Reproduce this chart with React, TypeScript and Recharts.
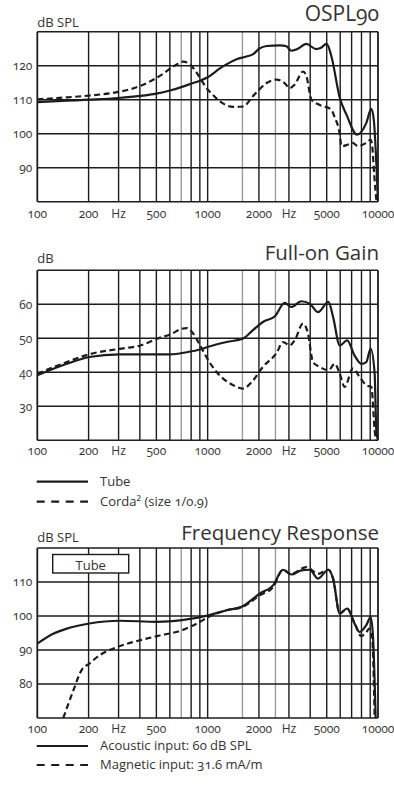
import React from 'react';
import { LineChart, Line, XAxis, YAxis, ReferenceLine } from 'recharts';

const FONT = '"Open Sans", "Noto Sans", sans-serif';
const INK = '#1c1c1c';
const TEXT = '#333333';
const GRAY = '#9b9b9b';

// Axis ticks / grid
const freqTicks = [100, 200, 300, 500, 1000, 2000, 3000, 5000, 10000];
const gridHz = [200, 300, 400, 500, 600, 700, 800, 900, 1000, 1600, 2000, 2500, 3000, 4000, 5000, 6000, 7000, 8000, 9000];
const grayGridHz = [700, 1600, 2500];

// OSPL90
const osplTicks = [90, 100, 110, 120];
const osplTubeHz = [100, 150, 200, 300, 400, 500, 600, 700, 800, 900, 1000, 1180, 1290, 1480, 1690, 1850, 2010, 2220, 2660, 2900, 3100, 3330, 3800, 4330, 4590, 5000, 5330, 5970, 6530, 7540, 8530, 9130, 9450, 9800, 10000];
const osplTubeDb = [109.3, 109.7, 110, 110.5, 111.1, 111.8, 112.7, 113.7, 114.7, 115.6, 116.6, 119.2, 120.4, 121.9, 122.7, 123.4, 125, 125.8, 126, 125.7, 124.4, 124.8, 126.4, 124.9, 125.2, 126.4, 122.7, 110.5, 105.6, 99.7, 103.1, 107.3, 104.1, 90.4, 80];
const osplCordaHz = [100, 150, 200, 300, 400, 524, 627, 718, 786, 850, 922, 1000, 1055, 1180, 1410, 1610, 1880, 2220, 2530, 2830, 3030, 3240, 3630, 3800, 4070, 4520, 5330, 5540, 5970, 6100, 6660, 7090, 7630, 8520, 9060, 9250, 9520, 9800];
const osplCordaDb = [110.1, 110.7, 111.2, 112.3, 114, 117, 119.7, 121.2, 120.4, 118.4, 115.6, 113, 111.8, 109.5, 107.9, 108, 111.5, 114.9, 115.9, 114.9, 113.4, 114.4, 118.3, 116.9, 110, 108.5, 107.1, 105.1, 99.7, 96.3, 96.8, 97.3, 96.3, 97.3, 98.2, 96.3, 87.4, 80];

// Full-on Gain
const gainTicks = [30, 40, 50, 60];
const gainTubeHz = [100, 149, 202, 303, 505, 606, 752, 903, 1009, 1291, 1609, 1846, 2110, 2484, 2832, 3100, 3548, 3970, 4441, 5114, 5448, 5962, 6586, 7282, 7975, 8537, 9057, 9558, 9775, 10000];
const gainTubeDb = [39.1, 42.5, 44.5, 45.3, 45.3, 45.3, 45.9, 46.7, 47.5, 48.9, 49.9, 52.4, 54.8, 56.5, 60.4, 59.2, 60.9, 60.2, 57.7, 60.7, 56.3, 47.9, 49.4, 45, 42.5, 43, 47, 39.6, 23, 20];
const gainCordaHz = [100, 149, 202, 303, 403, 505, 606, 706, 752, 822, 903, 1009, 1129, 1413, 1609, 1846, 2110, 2541, 2769, 3030, 3241, 3629, 3882, 4153, 4543, 5114, 5573, 5962, 6374, 7118, 7796, 8537, 9138, 9558, 9700];
const gainCordaDb = [39.6, 43, 45.3, 46.9, 47.9, 49.9, 51.2, 52.8, 53, 51.4, 47.9, 43.5, 40.1, 36.2, 35.2, 37.6, 41.6, 45.7, 48.9, 47.9, 49.4, 54.3, 51.4, 43, 41.6, 40.6, 42.5, 39.6, 35.7, 41.1, 38.6, 36.2, 35.7, 23, 20];

// Frequency Response
const respTicks = [80, 90, 100, 110];
const respAcousticHz = [100, 124, 149, 202, 303, 505, 706, 1009, 1291, 1609, 2023, 2421, 2769, 3100, 3548, 3970, 4441, 5114, 5448, 5962, 6586, 7282, 7796, 8537, 9057, 9349, 9690];
const respAcousticDb = [91.9, 94.8, 96.3, 97.8, 98.6, 98.3, 98.8, 100.2, 101.7, 102.9, 106.6, 109, 113.6, 112.2, 113.4, 113.6, 111, 113.6, 111, 100.7, 102.2, 97.8, 95.3, 97.3, 99.7, 93.9, 69.9];
const respMagneticHz = [130, 142, 163, 182, 202, 233, 303, 403, 505, 706, 903, 1009, 1291, 1609, 2023, 2421, 2769, 3100, 3792, 4441, 5114, 5448, 5962, 6586, 7282, 7975, 8537, 8901, 9230, 9558];
const respMagneticDb = [64.8, 70, 78.2, 84.1, 86, 88.5, 91.1, 92.9, 94.1, 95.8, 98.3, 99.7, 101.7, 102.7, 106.1, 108.5, 113.6, 112.4, 114.4, 112.4, 113.6, 111, 100.7, 102.2, 98, 94.1, 95.3, 96.3, 93.9, 70];

const toData = (hz: number[], db: number[]) => hz.map((f, i) => ({ f, v: db[i] }));

type Series = { data: { f: number; v: number }[]; dashed: boolean };

function range(lo: number, hi: number, step: number) {
  const out: number[] = [];
  for (let v = lo; v <= hi + 1e-9; v += step) out.push(v);
  return out;
}

const hzLabel = (v: number) => (v === 300 || v === 3000 ? 'Hz' : String(v));

function Panel(props: { top: number; marginTop: number; tickGap: number; yDomain: [number, number]; yTicks: number[]; series: Series[] }) {
  const { top, marginTop, tickGap, yDomain, yTicks, series } = props;
  const plotH = 170;
  const axisH = 30;
  const height = marginTop + plotH + axisH;
  const tickStyle = { fill: TEXT, fontSize: 12, fontFamily: FONT };
  return (
    <div style={{ position: 'absolute', left: 0, top }}>
      <LineChart width={394} height={height} margin={{ top: marginTop, right: 16, bottom: 0, left: 0 }}>
        <XAxis
          type="number"
          dataKey="f"
          scale="log"
          domain={[100, 10000]}
          ticks={freqTicks}
          interval={0}
          tickFormatter={hzLabel}
          axisLine={false}
          tickLine={false}
          tickSize={0}
          tickMargin={tickGap}
          height={axisH}
          tick={tickStyle}
          allowDataOverflow
        />
        <YAxis
          type="number"
          domain={yDomain}
          ticks={yTicks}
          interval={0}
          axisLine={false}
          tickLine={false}
          tickSize={3}
          tickMargin={2}
          width={37.3}
          tick={tickStyle}
          allowDataOverflow
        />
        {gridHz.map((f) => (
          <ReferenceLine key={'v' + f} x={f} stroke={grayGridHz.includes(f) ? GRAY : INK} strokeWidth={1.4} />
        ))}
        {range(yDomain[0], yDomain[1], 10).map((v) => (
          <ReferenceLine key={'h' + v} y={v} stroke={INK} strokeWidth={1.6} />
        ))}
        <ReferenceLine x={100} stroke={INK} strokeWidth={1.8} />
        <ReferenceLine x={10000} stroke={INK} strokeWidth={1.8} />
        {series.map((s, i) => (
          <Line
            key={i}
            data={s.data}
            dataKey="v"
            type="monotone"
            stroke={INK}
            strokeWidth={2.2}
            strokeDasharray={s.dashed ? '6 3.5' : undefined}
            dot={false}
            activeDot={false}
            isAnimationActive={false}
          />
        ))}
      </LineChart>
    </div>
  );
}

export default function App() {
  const t = { fontFamily: FONT, fill: TEXT } as const;
  return (
    <div style={{ position: 'absolute', left: 0, top: 0, width: 394, height: 796, background: '#fff', overflow: 'hidden' }}>
      <style>{`text { font-variant-numeric: oldstyle-nums; font-feature-settings: "onum" 1; }`}</style>
      <Panel
        top={0}
        marginTop={31.7}
        tickGap={8}
        yDomain={[80, 130]}
        yTicks={osplTicks}
        series={[
          { data: toData(osplTubeHz, osplTubeDb), dashed: false },
          { data: toData(osplCordaHz, osplCordaDb), dashed: true },
        ]}
      />
      <Panel
        top={240}
        marginTop={30.3}
        tickGap={6}
        yDomain={[20, 70]}
        yTicks={gainTicks}
        series={[
          { data: toData(gainTubeHz, gainTubeDb), dashed: false },
          { data: toData(gainCordaHz, gainCordaDb), dashed: true },
        ]}
      />
      <Panel
        top={520}
        marginTop={28}
        tickGap={6}
        yDomain={[70, 120]}
        yTicks={respTicks}
        series={[
          { data: toData(respAcousticHz, respAcousticDb), dashed: false },
          { data: toData(respMagneticHz, respMagneticDb), dashed: true },
        ]}
      />
      <svg width={394} height={796} style={{ position: 'absolute', left: 0, top: 0, pointerEvents: 'none' }}>
        <text x={379} y={20.5} textAnchor="end" fontSize={21} {...t}>OSPL90</text>
        <text x={37.3} y={26.7} fontSize={13} {...t}>dB SPL</text>

        <text x={379} y={260} textAnchor="end" fontSize={20.5} {...t}>Full-on Gain</text>
        <text x={37.3} y={263.3} fontSize={13} {...t}>dB</text>

        <line x1={36.7} x2={88} y1={481.7} y2={481.7} stroke={INK} strokeWidth={2.2} />
        <text x={100} y={486.3} fontSize={13} {...t}>Tube</text>
        <line x1={36.7} x2={88} y1={501.7} y2={501.7} stroke={INK} strokeWidth={2.2} strokeDasharray="8 6.5" />
        <text x={100} y={506} fontSize={13} {...t}>Corda² (size 1/0.9)</text>

        <text x={379} y={540} textAnchor="end" fontSize={20.5} {...t}>Frequency Response</text>
        <text x={37.3} y={542} fontSize={13} {...t}>dB SPL</text>
        <rect x={52.7} y={554.5} width={76} height={18.5} fill="#fff" stroke={INK} strokeWidth={1.4} />
        <text x={90.7} y={569.5} textAnchor="middle" fontSize={13} {...t}>Tube</text>

        <line x1={36.7} x2={88} y1={746} y2={746} stroke={INK} strokeWidth={2.2} />
        <text x={100} y={750} fontSize={13} {...t}>Acoustic input: 60 dB SPL</text>
        <line x1={36.7} x2={88} y1={765} y2={765} stroke={INK} strokeWidth={2.2} strokeDasharray="8 6.5" />
        <text x={100} y={768.5} fontSize={13} {...t}>Magnetic input: 31.6 mA/m</text>
      </svg>
    </div>
  );
}
